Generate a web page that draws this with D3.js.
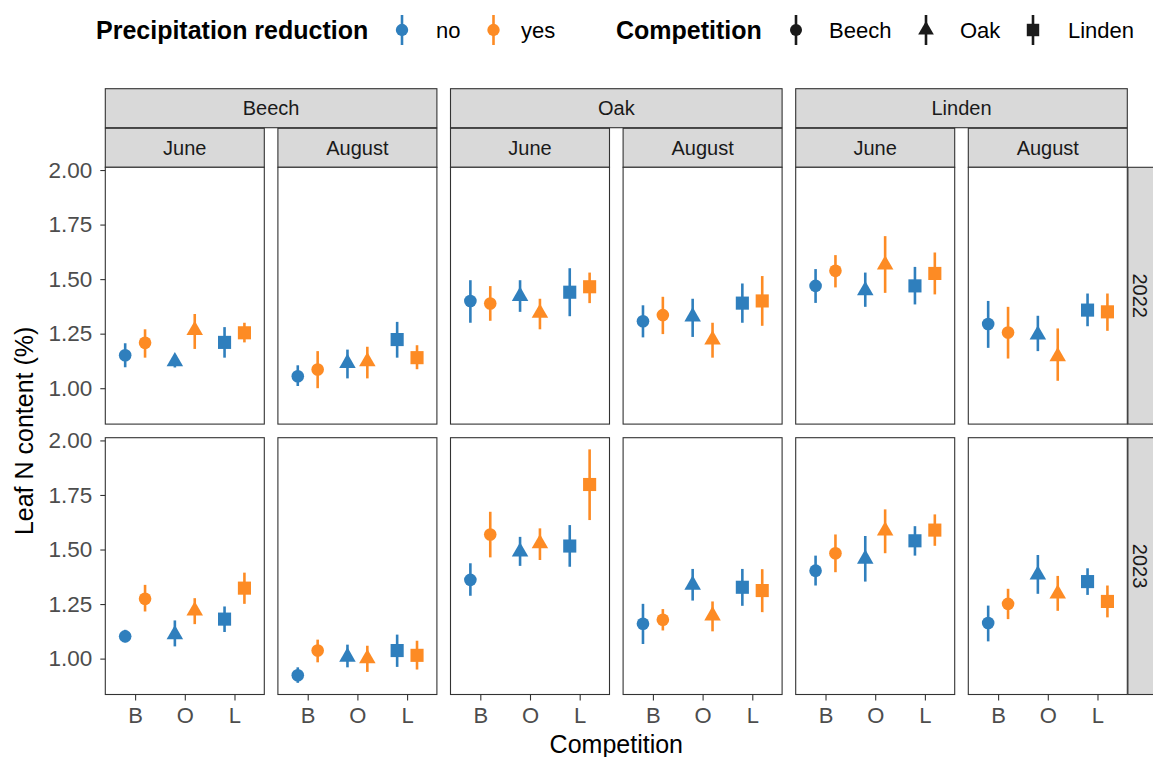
<!DOCTYPE html>
<html>
<head>
<meta charset="utf-8">
<script src="https://cdn.jsdelivr.net/npm/d3@7"></script>
<style>
  body { margin: 0; background: #fff; }
  svg { display: block; }
  text { font-family: "Liberation Sans", Arial, sans-serif; }
</style>
</head>
<body>
<svg id="chart" width="1153" height="757"></svg>
<script>
const species = ["Beech", "Oak", "Linden"];
const months = ["June", "August"];
const years = ["2022", "2023"];
const competitors = ["B", "O", "L"];
const competitorNames = ["Beech", "Oak", "Linden"];
const precip = ["no", "yes"];
const yTicks = [1.00, 1.25, 1.50, 1.75, 2.00];

// rows: Beech June, Beech August, Oak June, Oak August, Linden June, Linden August
// cols: B-no, B-yes, O-no, O-yes, L-no, L-yes
const mean2022 = [
  [1.151, 1.208, 1.122, 1.266, 1.210, 1.254],
  [1.055, 1.086, 1.115, 1.122, 1.223, 1.140],
  [1.400, 1.388, 1.422, 1.345, 1.440, 1.465],
  [1.307, 1.335, 1.328, 1.222, 1.390, 1.400],
  [1.469, 1.538, 1.448, 1.566, 1.469, 1.526],
  [1.294, 1.255, 1.245, 1.145, 1.358, 1.350]
];
const lower2022 = [
  [1.096, 1.140, 1.095, 1.180, 1.140, 1.210],
  [1.010, 1.000, 1.045, 1.045, 1.140, 1.087],
  [1.300, 1.309, 1.350, 1.270, 1.330, 1.390],
  [1.233, 1.248, 1.235, 1.140, 1.300, 1.286],
  [1.391, 1.462, 1.373, 1.437, 1.384, 1.430],
  [1.185, 1.136, 1.170, 1.034, 1.284, 1.263]
];
const upper2022 = [
  [1.206, 1.270, 1.150, 1.340, 1.280, 1.300],
  [1.105, 1.170, 1.177, 1.190, 1.304, 1.197],
  [1.495, 1.468, 1.495, 1.410, 1.550, 1.530],
  [1.380, 1.419, 1.410, 1.300, 1.480, 1.514],
  [1.546, 1.610, 1.530, 1.697, 1.556, 1.622],
  [1.400, 1.373, 1.332, 1.274, 1.434, 1.434]
];

const mean2023 = [
  [1.102, 1.274, 1.110, 1.219, 1.181, 1.323],
  [0.924, 1.037, 1.008, 1.000, 1.037, 1.015],
  [1.361, 1.569, 1.490, 1.528, 1.516, 1.798],
  [1.160, 1.178, 1.338, 1.197, 1.327, 1.312],
  [1.403, 1.483, 1.457, 1.586, 1.540, 1.589],
  [1.163, 1.251, 1.384, 1.297, 1.353, 1.262]
];
const lower2023 = [
  [1.075, 1.216, 1.056, 1.158, 1.122, 1.251],
  [0.889, 0.983, 0.960, 0.939, 0.962, 0.950],
  [1.288, 1.464, 1.425, 1.452, 1.421, 1.635],
  [1.067, 1.129, 1.266, 1.125, 1.242, 1.213],
  [1.335, 1.396, 1.353, 1.483, 1.472, 1.517],
  [1.079, 1.181, 1.297, 1.219, 1.292, 1.189]
];
const upper2023 = [
  [1.132, 1.338, 1.175, 1.277, 1.239, 1.394],
  [0.960, 1.087, 1.064, 1.059, 1.110, 1.082],
  [1.437, 1.673, 1.558, 1.597, 1.612, 1.959],
  [1.251, 1.227, 1.411, 1.262, 1.411, 1.410],
  [1.472, 1.569, 1.562, 1.684, 1.607, 1.661],
  [1.243, 1.320, 1.475, 1.379, 1.414, 1.335]
];

const colours = { no: "#2f7fbd", yes: "#fd8b24" };
const shapes = { B: d3.symbolCircle, O: d3.symbolTriangle, L: d3.symbolSquare };
const shapeSize = { B: 125, O: 118, L: 172 };

const panelLeft = 105.3, panelW = 159, gap = 13.6;
const panelTop = 167.3, panelH = 256.8;
const stripH = 39;

const byYear = {
  "2022": { mean: mean2022, lo: lower2022, hi: upper2022 },
  "2023": { mean: mean2023, lo: lower2023, hi: upper2023 }
};

// flatten into records
const data = [];
years.forEach(yr => {
  const t = byYear[yr];
  t.mean.forEach((row, p) => {
    row.forEach((m, c) => {
      data.push({
        year: yr,
        species: species[Math.floor(p / 2)],
        month: months[p % 2],
        panel: p,
        comp: competitors[Math.floor(c / 2)],
        precip: precip[c % 2],
        mean: m,
        lo: t.lo[p][c],
        hi: t.hi[p][c]
      });
    });
  });
});

// ggplot style y range: data extent + 5%
const ext = [d3.min(data, d => d.lo), d3.max(data, d => d.hi)];
const pad = (ext[1] - ext[0]) * 0.05;
const yDomain = [ext[0] - pad, ext[1] + pad];

const svg = d3.select("#chart");

const panelX = i => panelLeft + i * (panelW + gap);
const rowY = r => panelTop + r * (panelH + gap);

// top strips: species (spanning two months) and month
species.forEach((s, si) => {
  const x0 = panelX(si * 2), x1 = panelX(si * 2 + 1) + panelW;
  svg.append("rect")
    .attr("x", x0).attr("y", panelTop - 2 * stripH - 0.6)
    .attr("width", x1 - x0).attr("height", stripH)
    .attr("fill", "#d9d9d9").attr("stroke", "#333").attr("stroke-width", 1.1);
  svg.append("text")
    .attr("x", (x0 + x1) / 2).attr("y", panelTop - 1.5 * stripH - 0.6)
    .attr("dy", "0.35em").attr("text-anchor", "middle")
    .attr("font-size", 20).attr("fill", "#1a1a1a").text(s);
});
d3.range(6).forEach(p => {
  const x0 = panelX(p);
  svg.append("rect")
    .attr("x", x0).attr("y", panelTop - stripH)
    .attr("width", panelW).attr("height", stripH)
    .attr("fill", "#d9d9d9").attr("stroke", "#333").attr("stroke-width", 1.1);
  svg.append("text")
    .attr("x", x0 + panelW / 2).attr("y", panelTop - stripH / 2)
    .attr("dy", "0.35em").attr("text-anchor", "middle")
    .attr("font-size", 20).attr("fill", "#1a1a1a").text(months[p % 2]);
});

// right strips: year (strip runs past the page edge, as in the original)
years.forEach((yr, r) => {
  const x0 = panelX(5) + panelW + 0.6;
  svg.append("rect")
    .attr("x", x0).attr("y", rowY(r))
    .attr("width", stripH).attr("height", panelH)
    .attr("fill", "#d9d9d9").attr("stroke", "#333").attr("stroke-width", 1.1);
  svg.append("text")
    .attr("transform", `translate(${x0 + 12.5},${rowY(r) + panelH / 2}) rotate(90)`)
    .attr("dy", "0.35em").attr("text-anchor", "middle")
    .attr("font-size", 20).attr("fill", "#1a1a1a").text(yr);
});

years.forEach((yr, r) => {
  const top = rowY(r);
  const y = d3.scaleLinear().domain(yDomain).range([top + panelH, top]);

  d3.range(6).forEach(p => {
    const x0 = panelX(p);
    const x = d3.scalePoint().domain(competitors).range([x0, x0 + panelW]).padding(0.6);
    const dodge = x.step() * 0.2;
    const g = svg.append("g");

    g.append("rect")
      .attr("x", x0).attr("y", top).attr("width", panelW).attr("height", panelH)
      .attr("fill", "#fff").attr("stroke", "#333").attr("stroke-width", 1.1);

    const pts = data.filter(d => d.year === yr && d.panel === p);
    const cx = d => x(d.comp) + (d.precip === "no" ? -dodge : dodge);

    g.selectAll("line.err").data(pts).join("line")
      .attr("class", "err")
      .attr("x1", cx).attr("x2", cx)
      .attr("y1", d => y(d.lo)).attr("y2", d => y(d.hi))
      .attr("stroke", d => colours[d.precip]).attr("stroke-width", 2.6);

    g.selectAll("path.pt").data(pts).join("path")
      .attr("class", "pt")
      .attr("transform", d => `translate(${cx(d)},${y(d.mean)})`)
      .attr("d", d => d3.symbol(shapes[d.comp], shapeSize[d.comp])())
      .attr("fill", d => colours[d.precip]);

    if (r === 1) {
      const ax = svg.append("g")
        .attr("transform", `translate(0,${top + panelH})`)
        .call(d3.axisBottom(x).tickSize(6).tickPadding(6.5));
      ax.select(".domain").remove();
      ax.selectAll(".tick line").attr("stroke", "#333").attr("stroke-width", 1.1);
      ax.selectAll(".tick text").attr("font-size", 22).attr("fill", "#4d4d4d")
        .style("font-family", "'Liberation Sans', Arial, sans-serif");
    }
  });

  const ay = svg.append("g")
    .attr("transform", `translate(${panelLeft},0)`)
    .call(d3.axisLeft(y).tickValues(yTicks).tickFormat(d3.format(".2f")).tickSize(5).tickPadding(8));
  ay.select(".domain").remove();
  ay.selectAll(".tick line").attr("stroke", "#333").attr("stroke-width", 1.1);
  ay.selectAll(".tick text").attr("font-size", 22.5).attr("fill", "#4d4d4d")
    .style("font-family", "'Liberation Sans', Arial, sans-serif");
});

// axis titles
svg.append("text")
  .attr("x", (panelLeft + panelX(5) + panelW) / 2).attr("y", 753)
  .attr("text-anchor", "middle").attr("font-size", 25).attr("fill", "#000")
  .text("Competition");
svg.append("text")
  .attr("transform", `translate(33,${(panelTop + rowY(1) + panelH) / 2}) rotate(-90)`)
  .attr("text-anchor", "middle").attr("font-size", 25).attr("fill", "#000")
  .text("Leaf N content (%)");

// legend
const legY = 30;
const leg = svg.append("g");
function legendKey(cxk, colour, shape, size) {
  leg.append("line")
    .attr("x1", cxk).attr("x2", cxk).attr("y1", legY - 15).attr("y2", legY + 15)
    .attr("stroke", colour).attr("stroke-width", 2.6);
  leg.append("path")
    .attr("transform", `translate(${cxk},${legY})`)
    .attr("d", d3.symbol(shape, size)())
    .attr("fill", colour);
}
function legendText(xk, txt, bold) {
  leg.append("text")
    .attr("x", xk).attr("y", legY).attr("dy", "0.35em")
    .attr("font-size", bold ? 25 : 22)
    .attr("font-weight", bold ? "bold" : "normal")
    .attr("fill", "#000").text(txt);
}
legendText(96, "Precipitation reduction", true);
const precipKeyX = [402, 493.5];
const precipLabelX = [436, 521];
precip.forEach((p, i) => {
  legendKey(precipKeyX[i], colours[p], d3.symbolCircle, 120);
  legendText(precipLabelX[i], p, false);
});
legendText(616, "Competition", true);
const compKeyX = [796, 926, 1033];
const compLabelX = [829, 960, 1068];
competitors.forEach((c, i) => {
  legendKey(compKeyX[i], "#1a1a1a", shapes[c], shapeSize[c] * 0.9);
  legendText(compLabelX[i], competitorNames[i], false);
});
</script>
</body>
</html>
